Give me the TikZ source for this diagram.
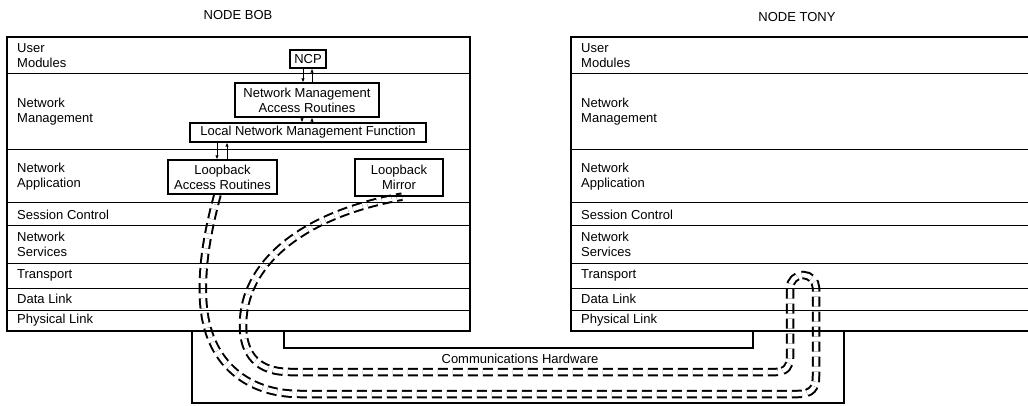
\documentclass[tikz,border=0pt]{standalone}
\usepackage{fontspec}
\setmainfont{Liberation Sans}
\usetikzlibrary{arrows.meta}
\pgfdeclarelayer{background}
\pgfsetlayers{background,main}
\tikzset{
  lbl/.style={anchor=west, align=left, inner sep=0pt, font=\fontsize{13}{15}\selectfont},
  ttl/.style={inner sep=0pt, font=\fontsize{13}{15}\selectfont},
  box/.style={draw, line width=1.3pt, inner sep=0pt, align=center, font=\fontsize{13}{15}\selectfont},
  tube/.style={dash pattern=on 10pt off 5pt, line width=2pt, double, double distance=4.5pt},
  hw/.style={line width=2.4pt},
  flow/.style={-{Latex[length=4pt,width=3.5pt]}, line width=1pt}
}

\begin{document}
\begin{tikzpicture}[x=1pt,y=-1pt]
  \useasboundingbox (0,0) rectangle (1028,406);
  \draw
    (238,15) node[ttl] (bobtitle) {NODE BOB}
    (797,17) node[ttl] (tonytitle) {NODE TONY};
  % layer frames
  \draw[line width=1.4pt] (7,37) rectangle (470,331);
  \draw[line width=1.4pt] (1028,37) -- (571,37) -- (571,331) -- (1028,331);
  \foreach \y in {74,150,203,226,263,288,310}{
    \draw[line width=1pt] (7,\y) -- (470,\y);
    \draw[line width=1pt] (571,\y) -- (1028,\y);
  }
  \foreach \x/\s in {17/bob,581/tony}
    \foreach \y/\txt [count=\i] in {55.5/{User\\Modules}, 112/{Network\\Management},
        176.5/{Network\\Application}, 214.5/{Session Control}, 244.5/{Network\\Services},
        275.5/{Transport}, 299/{Data Link}, 320.5/{Physical Link}}
      \node[lbl] (\s-\i) at (\x,\y) {\txt};
  % modules in node bob
  \node[box, minimum width=36pt, minimum height=18pt] (ncp) at (308,59) {NCP};
  \node[box, minimum width=144pt, minimum height=34pt] (nmar) at (307,100) {Network Management\\Access Routines};
  \node[box, minimum width=236pt, minimum height=19pt] (lnmf) at (308,132.5) {Local Network Management Function};
  \node[box, minimum width=109pt, minimum height=34pt] (lar) at (222.5,177) {Loopback\\Access Routines};
  \node[box, minimum width=88pt, minimum height=37pt] (mirror) at (399,177.5) {Loopback\\Mirror};
  \begin{scope}[flow]
    \draw ([xshift=-5pt]ncp.south) -- ([xshift=-4pt]nmar.north);
    \draw ([xshift=5pt]nmar.north) -- ([xshift=4pt]ncp.south);
    \draw ([xshift=-5pt]nmar.south) -- ([xshift=-6pt]lnmf.north);
    \draw ([xshift=4pt]lnmf.north) -- ([xshift=5pt]nmar.south);
    \draw ([xshift=-91pt]lnmf.south) -- ([xshift=-5.5pt]lar.north);
    \draw ([xshift=4.5pt]lar.north) -- ([xshift=-81pt]lnmf.south);
  \end{scope}
  % communications hardware
  \draw[hw] (192,331) -- (192,403) -- (844,403) -- (844,331);
  \draw[hw] (284,331) -- (284,348) -- (753,348) -- (753,331);
  \node[ttl] (hwlabel) at (520,359) {Communications Hardware};
  % loopback path
  \begin{pgfonlayer}{background}
    \draw[tube] ([xshift=-5pt]lar.south) .. controls (208,230) and (202,262) .. (203,295)
      .. controls (204,360) and (245,394) .. (300,394)
      -- (798,394) .. controls (812,394) and (816,388) .. (816,376)
      -- (816,288) arc[start angle=0, end angle=-180, radius=13]
      -- (790,358) .. controls (790,366) and (786,372) .. (776,372)
      -- (290,372) .. controls (258,372) and (243,355) .. (243,325)
      .. controls (243,265) and (300,215) .. ([xshift=3pt]mirror.south);
  \end{pgfonlayer}
\end{tikzpicture}
\end{document}
